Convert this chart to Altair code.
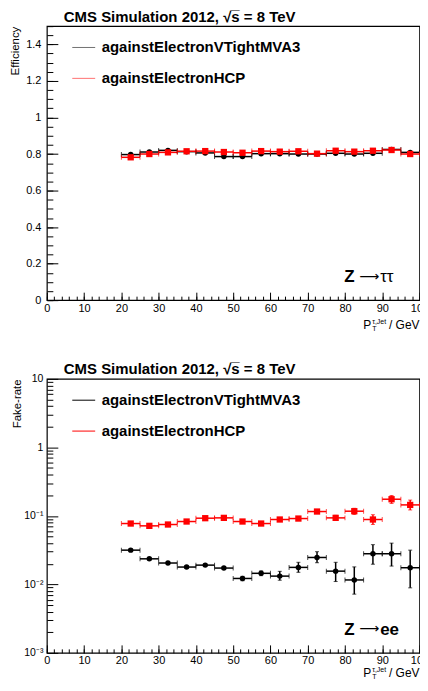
import altair as alt
import pandas as pd

FONT = "Liberation Sans"
W, H = 374, 275

series = ["againstElectronVTightMVA3", "againstElectronHCP"]
colors = ["#000000", "#ff0000"]

bin_lo = [20, 25, 30, 35, 40, 45, 50, 55, 60, 65, 70, 75, 80, 85, 90, 95]
bin_hi = [25, 30, 35, 40, 45, 50, 55, 60, 65, 70, 75, 80, 85, 90, 95, 100]
bin_center = [22.5, 27.5, 32.5, 37.5, 42.5, 47.5, 52.5, 57.5, 62.5, 67.5, 72.5, 77.5, 82.5, 87.5, 92.5, 97.5]

eff_mva3 = [0.797, 0.811, 0.820, 0.813, 0.806, 0.786, 0.786, 0.802, 0.802, 0.800, 0.800, 0.804, 0.800, 0.804, 0.825, 0.809]
eff_mva3_lo = [0.793, 0.807, 0.816, 0.809, 0.802, 0.782, 0.782, 0.798, 0.798, 0.796, 0.796, 0.800, 0.796, 0.800, 0.821, 0.805]
eff_mva3_hi = [0.801, 0.815, 0.824, 0.817, 0.810, 0.790, 0.790, 0.806, 0.806, 0.804, 0.804, 0.808, 0.804, 0.808, 0.829, 0.813]
eff_hcp = [0.782, 0.800, 0.809, 0.815, 0.816, 0.811, 0.807, 0.816, 0.813, 0.815, 0.802, 0.818, 0.813, 0.818, 0.822, 0.800]
eff_hcp_lo = [0.778, 0.796, 0.805, 0.811, 0.812, 0.807, 0.803, 0.812, 0.809, 0.811, 0.798, 0.814, 0.809, 0.814, 0.818, 0.796]
eff_hcp_hi = [0.786, 0.804, 0.813, 0.819, 0.820, 0.815, 0.811, 0.820, 0.817, 0.819, 0.806, 0.822, 0.817, 0.822, 0.826, 0.804]

fake_mva3 = [0.0316, 0.0236, 0.0205, 0.0179, 0.0191, 0.0173, 0.0122, 0.0145, 0.0132, 0.0177, 0.0247, 0.0156, 0.0116, 0.0280, 0.0280, 0.0175]
fake_mva3_lo = [0.0305, 0.0228, 0.0198, 0.0172, 0.0183, 0.0165, 0.0113, 0.0134, 0.0115, 0.0150, 0.0207, 0.0110, 0.0072, 0.0197, 0.0185, 0.0089]
fake_mva3_hi = [0.0328, 0.0244, 0.0212, 0.0186, 0.0199, 0.0181, 0.0131, 0.0157, 0.0155, 0.0210, 0.0300, 0.0210, 0.0180, 0.0380, 0.0400, 0.0316]
fake_hcp = [0.0773, 0.0715, 0.0748, 0.0827, 0.0925, 0.0935, 0.0827, 0.0773, 0.0885, 0.0914, 0.1157, 0.0935, 0.1170, 0.0885, 0.1750, 0.1446]
fake_hcp_lo = [0.0740, 0.0680, 0.0715, 0.0790, 0.0885, 0.0890, 0.0790, 0.0735, 0.0840, 0.0870, 0.1100, 0.0855, 0.1050, 0.0750, 0.1520, 0.1220]
fake_hcp_hi = [0.0810, 0.0750, 0.0780, 0.0865, 0.0965, 0.0980, 0.0870, 0.0810, 0.0930, 0.0960, 0.1220, 0.1020, 0.1290, 0.1040, 0.1980, 0.1700]

x_major = [0, 10, 20, 30, 40, 50, 60, 70, 80, 90, 100]
x_minor = list(range(0, 101, 2))
eff_major = [0, 0.2, 0.4, 0.6, 0.8, 1, 1.2, 1.4]
eff_minor = [round(i * 0.05, 2) for i in range(31)]
fake_major = [0.001, 0.01, 0.1, 1, 10]
fake_minor = [k * 10.0 ** e for e in (-3, -2, -1, 0) for k in range(2, 10)]


def make_df(vals, lo, hi, name):
    return pd.DataFrame({"center": bin_center, "lo": bin_lo, "hi": bin_hi,
                         "val": vals, "elo": lo, "ehi": hi, "series": name})


def text_layer(txt, x, y, size, weight="normal", align="left", font=FONT):
    return alt.Chart(pd.DataFrame({"t": [txt]})).mark_text(
        font=font, fontSize=size, fontWeight=weight, align=align,
        baseline="alphabetic", color="black"
    ).encode(text="t:N", x=alt.value(x), y=alt.value(y))


def panel(df, yscale, ymajor, yminor, title, legend_opacity, proc_tail, proc_tail_bold,
          title_offset, xt):
    xs = alt.Scale(domain=[0, 100], nice=False, zero=False)
    base = alt.Chart(df)
    xmaj = alt.Axis(values=x_major, tickSize=8, offset=-8, domain=False, grid=False,
                    labelPadding=2, labelFlush=False, labelOverlap=False, format="d",
                    title=None, orient="bottom")
    xmin = alt.Axis(values=x_minor, tickSize=4, offset=-4, domain=False, grid=False,
                    labels=False, title=None, orient="bottom")
    legend = alt.Legend(orient="none", legendX=25, legendY=9.4, title=None,
                        symbolType="stroke", symbolSize=529, symbolStrokeWidth=1,
                        symbolOpacity=legend_opacity,
                        labelFont=FONT, labelFontSize=15, labelFontWeight="bold",
                        labelColor="black", labelOffset=6, rowPadding=11, padding=0,
                        labelLimit=400)
    sscale = alt.Scale(domain=series, range=colors)
    hbar = base.mark_rule(strokeWidth=1.5).encode(
        x=alt.X("lo:Q", scale=xs, axis=xmaj),
        x2="hi:Q",
        y=alt.Y("val:Q", scale=yscale, axis=ymajor),
        stroke=alt.Stroke("series:N", scale=sscale, legend=legend, sort=series),
    )
    vbar = base.mark_rule(strokeWidth=1.5).encode(
        x=alt.X("center:Q", scale=xs, axis=xmin),
        y=alt.Y("elo:Q", scale=yscale, axis=yminor),
        y2="ehi:Q",
        stroke=alt.Stroke("series:N", scale=sscale, legend=None),
    )
    hcap = base.transform_fold(["lo", "hi"], as_=["edge", "xe"]).mark_tick(
        orient="vertical", size=5, thickness=1
    ).encode(
        x=alt.X("xe:Q", scale=xs, axis=None),
        y=alt.Y("val:Q", scale=yscale, axis=None),
        color=alt.Color("series:N", scale=sscale, legend=None),
    )
    vcap = base.transform_fold(["elo", "ehi"], as_=["edge", "ye"]).mark_tick(
        orient="horizontal", size=4, thickness=1
    ).encode(
        x=alt.X("center:Q", scale=xs, axis=None),
        y=alt.Y("ye:Q", scale=yscale, axis=None),
        color=alt.Color("series:N", scale=sscale, legend=None),
    )
    pts_black = base.transform_filter(alt.datum.series == series[0]).mark_circle(
        size=30, color="black", opacity=1
    ).encode(x=alt.X("center:Q", scale=xs, axis=None), y=alt.Y("val:Q", scale=yscale, axis=None))
    pts_red = base.transform_filter(alt.datum.series == series[1]).mark_square(
        size=40, color="#ff0000", opacity=1
    ).encode(x=alt.X("center:Q", scale=xs, axis=None), y=alt.Y("val:Q", scale=yscale, axis=None))

    texts = [
        text_layer("P", 317.5, H + xt, 12),
        text_layer("T", 326.5, H + xt + 2, 7),
        text_layer("τ,Jet", 326.5, H + xt - 4.5, 7),
        text_layer("/ GeV", W, H + xt, 12, align="right"),
        text_layer("Z", 298.5, H - 18, 17, weight="bold"),
        text_layer("⟶", 313.5, H - 19.5, 14, font="DejaVu Sans"),
        text_layer(proc_tail, 334.5, H - 18, 17, weight="bold" if proc_tail_bold else "normal"),
    ]
    return alt.layer(hbar, vbar, hcap, vcap, pts_black, pts_red, *texts).resolve_axis(
        x="independent", y="independent"
    ).properties(
        width=W, height=H,
        title=alt.TitleParams(text=title, anchor="start", frame="group", dx=17,
                              offset=title_offset, baseline="alphabetic",
                              font=FONT, fontSize=15, fontWeight="bold", color="black"),
    )


title_txt = "CMS Simulation 2012, √s̅ = 8 TeV"

eff_df = pd.concat([make_df(eff_mva3, eff_mva3_lo, eff_mva3_hi, series[0]),
                    make_df(eff_hcp, eff_hcp_lo, eff_hcp_hi, series[1])], ignore_index=True)
fake_df = pd.concat([make_df(fake_mva3, fake_mva3_lo, fake_mva3_hi, series[0]),
                     make_df(fake_hcp, fake_hcp_lo, fake_hcp_hi, series[1])], ignore_index=True)

eff_scale = alt.Scale(domain=[0, 1.5], nice=False, zero=False)
eff_major_axis = alt.Axis(values=eff_major, tickSize=11, offset=-11, domain=False, grid=False,
                          labelPadding=6, format="~g", title="Efficiency", titleAnchor="end",
                          titlePadding=5.5, orient="left", minExtent=0)
eff_minor_axis = alt.Axis(values=eff_minor, tickSize=6, offset=-6, domain=False, grid=False,
                          labels=False, title=None, orient="left", minExtent=0)

fake_scale = alt.Scale(type="log", domain=[0.001, 10], nice=False)
fake_major_axis = alt.Axis(values=fake_major, tickSize=11, offset=-11, domain=False, grid=False,
                           labelPadding=4, labelFontSize=10.5,
                           labelExpr="datum.value > 5 ? '10' : datum.value > 0.5 ? '1' : datum.value > 0.05 ? '10⁻¹' : datum.value > 0.005 ? '10⁻²' : '10⁻³'",
                           title="Fake-rate", titleAnchor="end", titlePadding=1.5, orient="left",
                           minExtent=0)
fake_minor_axis = alt.Axis(values=fake_minor, tickSize=6, offset=-6, domain=False, grid=False,
                           labels=False, title=None, orient="left", minExtent=0)

top = panel(eff_df, eff_scale, eff_major_axis, eff_minor_axis, title_txt, 0.55, "ττ", False, -11.4, 28.5)
bottom = panel(fake_df, fake_scale, fake_major_axis, fake_minor_axis, title_txt, 1.0, "ee", True, -14.7, 24)

chart = alt.vconcat(top, bottom, spacing=28).resolve_scale(
    stroke="independent", color="independent"
).resolve_legend(stroke="independent").properties(
    padding={"left": 0, "top": 0, "right": -9.5, "bottom": -3}
).configure_view(
    stroke="black", strokeWidth=1.2
).configure_axis(
    labelFont=FONT, labelFontSize=11, labelColor="black",
    titleFont=FONT, titleFontSize=11.5, titleFontWeight="normal", titleColor="black",
    tickColor="black", tickWidth=1,
)

chart.save("out.html", embed_options={"renderer": "svg", "actions": False})
